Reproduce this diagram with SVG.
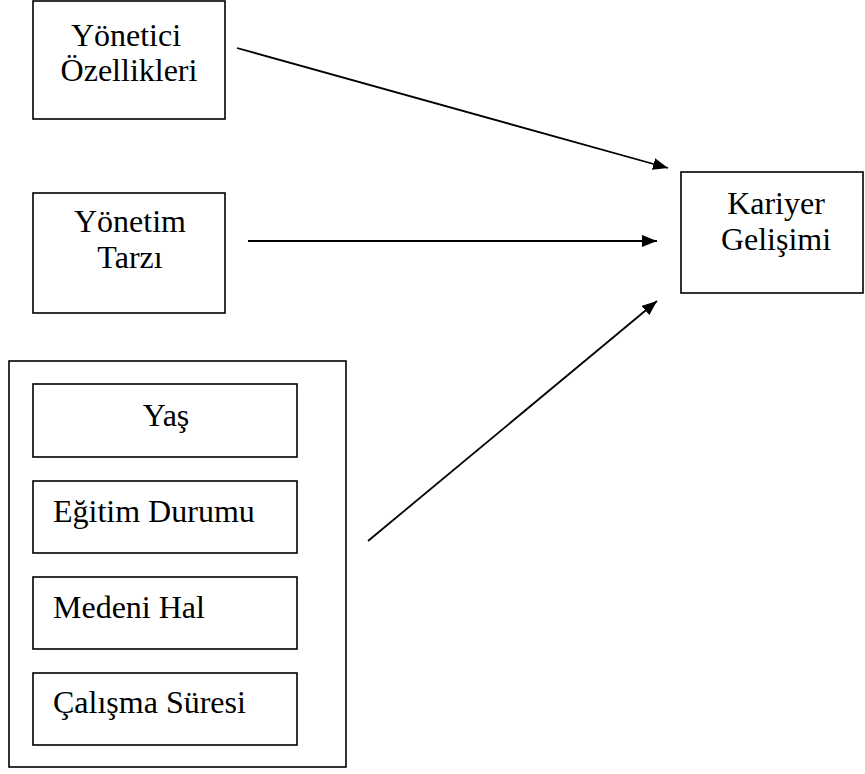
<svg xmlns="http://www.w3.org/2000/svg" width="865" height="774" viewBox="0 0 865 774" font-family="Liberation Serif, Times New Roman, serif">
<style>
.box{fill:#fff;stroke:#000;stroke-width:1.6}
.t{font-size:32px;fill:#000}
.m{text-anchor:middle}
.c{stroke:#000;stroke-width:1.8;fill:none}
</style>
<defs>
<marker id="ah" viewBox="0 0 10 10" refX="10" refY="5" markerWidth="15" markerHeight="12" markerUnits="userSpaceOnUse" orient="auto" preserveAspectRatio="none">
<path d="M0,0 L10,5 L0,10 Z" fill="#000"/>
</marker>
</defs>
<rect width="865" height="774" fill="#fff"/>
<g id="yonetici">
<rect class="box" x="33" y="1" width="192" height="118"/>
<text class="t m" x="126" y="46">Yönetici</text>
<text class="t m" x="129" y="81">Özellikleri</text>
</g>
<g id="yonetim">
<rect class="box" x="33" y="193" width="192" height="120"/>
<text class="t m" x="130" y="232">Yönetim</text>
<text class="t m" x="130" y="268">Tarzı</text>
</g>
<g id="kariyer">
<rect class="box" x="681" y="172" width="182" height="121"/>
<text class="t m" x="776" y="214">Kariyer</text>
<text class="t m" x="776" y="250">Gelişimi</text>
</g>
<g id="demografi">
<rect class="box" x="9" y="361" width="337" height="406"/>
<g id="yas">
<rect class="box" x="33" y="384" width="264" height="73"/>
<text class="t m" x="166" y="426">Yaş</text>
</g>
<g id="egitim">
<rect class="box" x="33" y="481" width="264" height="72"/>
<text class="t" x="53" y="522">Eğitim Durumu</text>
</g>
<g id="medeni">
<rect class="box" x="33" y="577" width="264" height="72"/>
<text class="t" x="53" y="618">Medeni Hal</text>
</g>
<g id="calisma">
<rect class="box" x="33" y="673" width="264" height="72"/>
<text class="t" x="53" y="713">Çalışma Süresi</text>
</g>
</g>
<g id="connectors">
<line class="c" x1="237" y1="48" x2="668" y2="168" marker-end="url(#ah)"/>
<line class="c" x1="248" y1="241" x2="657" y2="241" marker-end="url(#ah)"/>
<line class="c" x1="368" y1="541" x2="657" y2="301" marker-end="url(#ah)"/>
</g>
</svg>
